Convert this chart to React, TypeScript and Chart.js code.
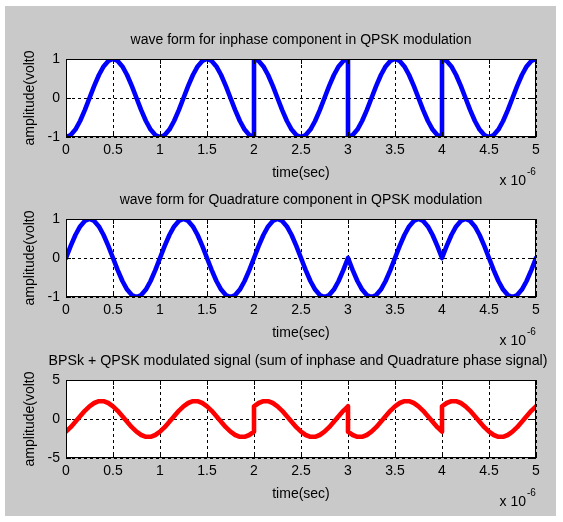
import React, { useEffect, useRef } from 'react';
import { Chart, registerables } from 'chart.js';

Chart.register(...registerables);

const FONT = "'Liberation Sans', Arial, Helvetica, sans-serif";

// ---- tick labels ----
const xTickLabels = ['0', '0.5', '1', '1.5', '2', '2.5', '3', '3.5', '4', '4.5', '5'];
const unitTickLabels = ['-1', '0', '1'];
const sumTickLabels = ['-5', '0', '5'];

// ---- titles ----
const inphaseTitle = 'wave form for inphase component in QPSK modulation';
const quadratureTitle = 'wave form for Quadrature component in QPSK modulation';
const sumTitle = 'BPSk + QPSK modulated signal (sum of inphase and Quadrature phase signal)';
const xAxisTitle = 'time(sec)';
const yAxisTitle = 'amplitude(volt0';

// ---- time (x 10^-6 s) ----
const timeSmooth = [
  0, 0.05, 0.1, 0.15, 0.2, 0.25, 0.3, 0.35, 0.4, 0.45, 0.5, 0.55, 0.6, 0.65, 0.7, 0.75, 0.8, 0.85, 0.9, 0.95, 1,
  1.05, 1.1, 1.15, 1.2, 1.25, 1.3, 1.35, 1.4, 1.45, 1.5, 1.55, 1.6, 1.65, 1.7, 1.75, 1.8, 1.85, 1.9, 1.95, 2,
  2.05, 2.1, 2.15, 2.2, 2.25, 2.3, 2.35, 2.4, 2.45, 2.5, 2.55, 2.6, 2.65, 2.7, 2.75, 2.8, 2.85, 2.9, 2.95, 3,
  3.05, 3.1, 3.15, 3.2, 3.25, 3.3, 3.35, 3.4, 3.45, 3.5, 3.55, 3.6, 3.65, 3.7, 3.75, 3.8, 3.85, 3.9, 3.95, 4,
  4.05, 4.1, 4.15, 4.2, 4.25, 4.3, 4.35, 4.4, 4.45, 4.5, 4.55, 4.6, 4.65, 4.7, 4.75, 4.8, 4.85, 4.9, 4.95, 5,
];

const timeWithJumps = [
  0, 0.05, 0.1, 0.15, 0.2, 0.25, 0.3, 0.35, 0.4, 0.45, 0.5, 0.55, 0.6, 0.65, 0.7, 0.75, 0.8, 0.85, 0.9, 0.95, 1,
  1.05, 1.1, 1.15, 1.2, 1.25, 1.3, 1.35, 1.4, 1.45, 1.5, 1.55, 1.6, 1.65, 1.7, 1.75, 1.8, 1.85, 1.9, 1.95, 2,
  2, 2.05, 2.1, 2.15, 2.2, 2.25, 2.3, 2.35, 2.4, 2.45, 2.5, 2.55, 2.6, 2.65, 2.7, 2.75, 2.8, 2.85, 2.9, 2.95, 3,
  3, 3.05, 3.1, 3.15, 3.2, 3.25, 3.3, 3.35, 3.4, 3.45, 3.5, 3.55, 3.6, 3.65, 3.7, 3.75, 3.8, 3.85, 3.9, 3.95, 4,
  4, 4.05, 4.1, 4.15, 4.2, 4.25, 4.3, 4.35, 4.4, 4.45, 4.5, 4.55, 4.6, 4.65, 4.7, 4.75, 4.8, 4.85, 4.9, 4.95, 5,
];

// ---- series values ----
const inphaseValues = [
  -1, -0.95, -0.81, -0.59, -0.31, 0, 0.31, 0.59, 0.81, 0.95, 1, 0.95, 0.81, 0.59, 0.31, 0, -0.31, -0.59, -0.81, -0.95, -1,
  -0.95, -0.81, -0.59, -0.31, 0, 0.31, 0.59, 0.81, 0.95, 1, 0.95, 0.81, 0.59, 0.31, 0, -0.31, -0.59, -0.81, -0.95, -1,
  1, 0.95, 0.81, 0.59, 0.31, 0, -0.31, -0.59, -0.81, -0.95, -1, -0.95, -0.81, -0.59, -0.31, 0, 0.31, 0.59, 0.81, 0.95, 1,
  -1, -0.95, -0.81, -0.59, -0.31, 0, 0.31, 0.59, 0.81, 0.95, 1, 0.95, 0.81, 0.59, 0.31, 0, -0.31, -0.59, -0.81, -0.95, -1,
  1, 0.95, 0.81, 0.59, 0.31, 0, -0.31, -0.59, -0.81, -0.95, -1, -0.95, -0.81, -0.59, -0.31, 0, 0.31, 0.59, 0.81, 0.95, 1,
];

const quadratureValues = [
  0, 0.31, 0.59, 0.81, 0.95, 1, 0.95, 0.81, 0.59, 0.31, 0, -0.31, -0.59, -0.81, -0.95, -1, -0.95, -0.81, -0.59, -0.31, 0,
  0.31, 0.59, 0.81, 0.95, 1, 0.95, 0.81, 0.59, 0.31, 0, -0.31, -0.59, -0.81, -0.95, -1, -0.95, -0.81, -0.59, -0.31, 0,
  0.31, 0.59, 0.81, 0.95, 1, 0.95, 0.81, 0.59, 0.31, 0, -0.31, -0.59, -0.81, -0.95, -1, -0.95, -0.81, -0.59, -0.31, 0,
  -0.31, -0.59, -0.81, -0.95, -1, -0.95, -0.81, -0.59, -0.31, 0, 0.31, 0.59, 0.81, 0.95, 1, 0.95, 0.81, 0.59, 0.31, 0,
  0.31, 0.59, 0.81, 0.95, 1, 0.95, 0.81, 0.59, 0.31, 0, -0.31, -0.59, -0.81, -0.95, -1, -0.95, -0.81, -0.59, -0.31, 0,
];

const modulatedValues = [
  -1.63, -1.05, -0.36, 0.36, 1.05, 1.63, 2.05, 2.28, 2.28, 2.05, 1.63, 1.05, 0.36, -0.36, -1.05, -1.63, -2.05, -2.28, -2.28, -2.05, -1.63,
  -1.05, -0.36, 0.36, 1.05, 1.63, 2.05, 2.28, 2.28, 2.05, 1.63, 1.05, 0.36, -0.36, -1.05, -1.63, -2.05, -2.28, -2.28, -2.05, -1.63,
  1.63, 2.05, 2.28, 2.28, 2.05, 1.63, 1.05, 0.36, -0.36, -1.05, -1.63, -2.05, -2.28, -2.28, -2.05, -1.63, -1.05, -0.36, 0.36, 1.05, 1.63,
  -1.63, -2.05, -2.28, -2.28, -2.05, -1.63, -1.05, -0.36, 0.36, 1.05, 1.63, 2.05, 2.28, 2.28, 2.05, 1.63, 1.05, 0.36, -0.36, -1.05, -1.63,
  1.63, 2.05, 2.28, 2.28, 2.05, 1.63, 1.05, 0.36, -0.36, -1.05, -1.63, -2.05, -2.28, -2.28, -2.05, -1.63, -1.05, -0.36, 0.36, 1.05, 1.63,
];

const axesPlugin = {
  id: 'matlabAxes',
  beforeDraw(chart: any) {
    const { ctx, chartArea } = chart;
    ctx.save();
    ctx.fillStyle = '#ffffff';
    ctx.fillRect(chartArea.left, chartArea.top, chartArea.right - chartArea.left, chartArea.bottom - chartArea.top);
    ctx.restore();
  },
  afterDatasetsDraw(chart: any, _args: any, opts: any) {
    const { ctx, chartArea, scales } = chart;
    const { left, top, right, bottom } = chartArea;
    ctx.save();
    ctx.strokeStyle = '#000';
    ctx.lineWidth = 1;
    ctx.setLineDash([]);
    const line = (x1: number, y1: number, x2: number, y2: number) => {
      ctx.beginPath();
      ctx.moveTo(x1, y1);
      ctx.lineTo(x2, y2);
      ctx.stroke();
    };
    const tl = 5;
    scales.x.ticks.forEach((t: any) => {
      const px = Math.round(scales.x.getPixelForValue(t.value)) + 0.5;
      line(px, bottom, px, bottom - tl);
      line(px, top, px, top + tl);
    });
    scales.y.ticks.forEach((t: any) => {
      const py = Math.round(scales.y.getPixelForValue(t.value)) + 0.5;
      line(left, py, left + tl, py);
      line(right, py, right - tl, py);
    });
    ctx.strokeRect(left + 0.5, top + 0.5, right - left - 1, bottom - top - 1);
    ctx.fillStyle = '#000';
    ctx.textBaseline = 'middle';
    // subplot title
    ctx.font = `${opts.titleSize}px ${FONT}`;
    ctx.textAlign = 'center';
    ctx.fillText(opts.title, (left + right) / 2 + opts.titleShift, top - 19);
    // exponent label
    ctx.font = `14px ${FONT}`;
    ctx.textAlign = 'right';
    ctx.fillText('x 10', right - 10, bottom + 44.6);
    ctx.font = `10px ${FONT}`;
    ctx.textAlign = 'left';
    ctx.fillText('-6', right - 9, bottom + 35);
    ctx.restore();
  },
};

type SubplotProps = {
  top: number;
  title: string;
  titleSize: number;
  titleShift: number;
  time: number[];
  values: number[];
  color: string;
  yMin: number;
  yMax: number;
  yStep: number;
  yLabels: string[];
};

function Subplot({ top, title, titleSize, titleShift, time, values, color, yMin, yMax, yStep, yLabels }: SubplotProps) {
  const ref = useRef<HTMLCanvasElement | null>(null);
  useEffect(() => {
    if (!ref.current) return;
    const chart = new Chart(ref.current, {
      type: 'line',
      data: {
        datasets: [
          {
            data: time.map((t, i) => ({ x: t, y: values[i] })),
            borderColor: color,
            backgroundColor: color,
            borderWidth: 4.6,
            pointRadius: 0,
            fill: false,
            tension: 0,
            clip: 0,
            borderJoinStyle: 'round',
            borderCapStyle: 'round',
          } as any,
        ],
      },
      options: {
        responsive: false,
        animation: false,
        events: [],
        layout: { padding: { top: 53, right: 20, bottom: 0, left: 0 } },
        plugins: {
          legend: { display: false },
          tooltip: { enabled: false },
          title: { display: false },
          matlabAxes: { title, titleSize, titleShift },
        },
        scales: {
          x: {
            type: 'linear',
            min: 0,
            max: 5,
            afterFit: (s: any) => {
              s.height = 59;
            },
            ticks: {
              stepSize: 0.5,
              autoSkip: false,
              maxRotation: 0,
              padding: 4.6,
              color: '#000',
              font: { size: 14, family: FONT },
              callback: (_v: any, i: number) => xTickLabels[i],
            },
            grid: { color: '#000', lineWidth: 1, drawTicks: false },
            border: { display: false, dash: [3, 3] },
            title: {
              display: true,
              text: xAxisTitle,
              color: '#000',
              font: { size: 14, family: FONT },
              padding: { top: 0, bottom: 14.6 },
            },
          },
          y: {
            type: 'linear',
            min: yMin,
            max: yMax,
            afterFit: (s: any) => {
              s.width = 61;
            },
            ticks: {
              stepSize: yStep,
              padding: 6,
              color: '#000',
              font: { size: 14, family: FONT },
              callback: (_v: any, i: number) => yLabels[i],
            },
            grid: { color: '#000', lineWidth: 1, drawTicks: false },
            border: { display: false, dash: [3, 3] },
            title: {
              display: true,
              text: yAxisTitle,
              color: '#000',
              font: { size: 14, family: FONT },
              padding: { top: 16.6, bottom: 0 },
            },
          },
        },
      } as any,
      plugins: [axesPlugin],
    });
    return () => chart.destroy();
  }, []);
  return (
    <canvas
      ref={ref}
      width={551}
      height={190}
      style={{ position: 'absolute', left: 0, top, width: 551, height: 190 }}
    />
  );
}

export default function App() {
  return (
    <div style={{ position: 'absolute', left: 0, top: 0, width: 563, height: 522, background: '#ffffff', overflow: 'hidden' }}>
      <div style={{ position: 'absolute', left: 5, top: 6, width: 551, height: 510, background: '#c9c9c9' }}>
        <Subplot top={0} title={inphaseTitle} titleSize={14} titleShift={0} time={timeWithJumps} values={inphaseValues} color="#0000ff" yMin={-1} yMax={1} yStep={1} yLabels={unitTickLabels} />
        <Subplot top={160} title={quadratureTitle} titleSize={14} titleShift={0} time={timeSmooth} values={quadratureValues} color="#0000ff" yMin={-1} yMax={1} yStep={1} yLabels={unitTickLabels} />
        <Subplot top={321} title={sumTitle} titleSize={14.2} titleShift={-3} time={timeWithJumps} values={modulatedValues} color="#ff0000" yMin={-5} yMax={5} yStep={5} yLabels={sumTickLabels} />
      </div>
    </div>
  );
}
